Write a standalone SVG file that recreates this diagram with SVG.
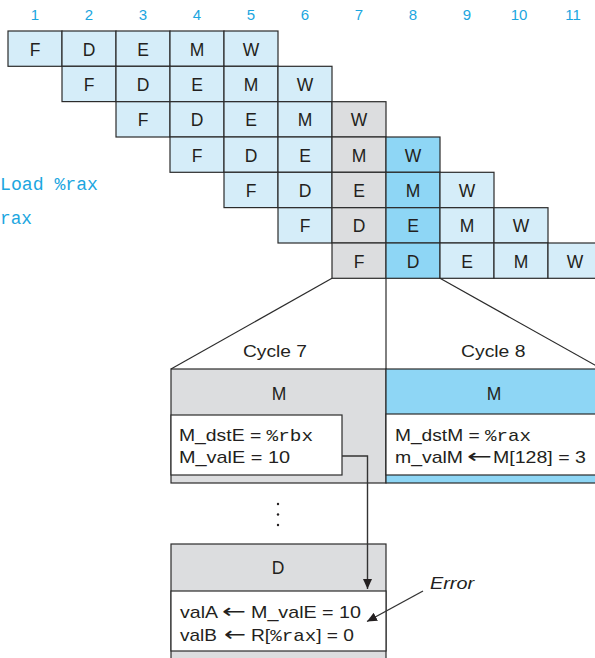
<svg xmlns="http://www.w3.org/2000/svg" width="595" height="658" viewBox="0 0 595 658">
<style>
.cell{stroke:#2b2b2b;stroke-width:1.2}
.lb{fill:#d5edf9}
.gr{fill:#dcdddf}
.bl{fill:#8ed6f5}
.wh{fill:#ffffff}
.t{font-family:"Liberation Sans",Arial,sans-serif;font-size:17px;fill:#231f20}
.ct{font-family:"Liberation Sans",Arial,sans-serif;font-size:17.5px;fill:#231f20;text-anchor:middle}
.c{text-anchor:middle}
.arr{font-family:"DejaVu Sans",sans-serif;font-size:20px;fill:#231f20}
.num{font-family:"Liberation Sans",Arial,sans-serif;font-size:15px;fill:#1ba6e0;text-anchor:middle}
.code{font-family:"Liberation Mono","Courier New",monospace;font-size:17.5px;fill:#1ba6e0}
.mono{font-family:"Liberation Mono","Courier New",monospace}
.ln{stroke:#2b2b2b;stroke-width:1.2;fill:none}
.ar{stroke:#333333;stroke-width:1.4;fill:none}
</style>
<defs>
<marker id="ah" markerUnits="userSpaceOnUse" markerWidth="11" markerHeight="9" refX="10" refY="4.5" orient="auto">
<path d="M0,0 L10,4.5 L0,9 z" fill="#231f20"/>
</marker>
</defs>
<rect width="595" height="658" fill="#ffffff"/>

<g id="cycle-numbers">
<text class="num" x="35" y="20">1</text>
<text class="num" x="89" y="20">2</text>
<text class="num" x="143" y="20">3</text>
<text class="num" x="197" y="20">4</text>
<text class="num" x="251" y="20">5</text>
<text class="num" x="305" y="20">6</text>
<text class="num" x="359" y="20">7</text>
<text class="num" x="413" y="20">8</text>
<text class="num" x="467" y="20">9</text>
<text class="num" x="519" y="20">10</text>
<text class="num" x="573" y="20">11</text>
</g>

<g id="code-labels">
<text class="code" x="0" y="190" textLength="98" lengthAdjust="spacingAndGlyphs">Load %rax</text>
<text class="code" x="0" y="224" textLength="32" lengthAdjust="spacingAndGlyphs">rax</text>
</g>

<g id="instr1">
<rect class="cell lb" x="8" y="31" width="54" height="35.3"/><text class="ct" x="35" y="55.5">F</text>
<rect class="cell lb" x="62" y="31" width="54" height="35.3"/><text class="ct" x="89" y="55.5">D</text>
<rect class="cell lb" x="116" y="31" width="54" height="35.3"/><text class="ct" x="143" y="55.5">E</text>
<rect class="cell lb" x="170" y="31" width="54" height="35.3"/><text class="ct" x="197" y="55.5">M</text>
<rect class="cell lb" x="224" y="31" width="54" height="35.3"/><text class="ct" x="251" y="55.5">W</text>
</g>
<g id="instr2">
<rect class="cell lb" x="62" y="66.3" width="54" height="35.3"/><text class="ct" x="89" y="90.8">F</text>
<rect class="cell lb" x="116" y="66.3" width="54" height="35.3"/><text class="ct" x="143" y="90.8">D</text>
<rect class="cell lb" x="170" y="66.3" width="54" height="35.3"/><text class="ct" x="197" y="90.8">E</text>
<rect class="cell lb" x="224" y="66.3" width="54" height="35.3"/><text class="ct" x="251" y="90.8">M</text>
<rect class="cell lb" x="278" y="66.3" width="54" height="35.3"/><text class="ct" x="305" y="90.8">W</text>
</g>
<g id="instr3">
<rect class="cell lb" x="116" y="101.7" width="54" height="35.3"/><text class="ct" x="143" y="126.2">F</text>
<rect class="cell lb" x="170" y="101.7" width="54" height="35.3"/><text class="ct" x="197" y="126.2">D</text>
<rect class="cell lb" x="224" y="101.7" width="54" height="35.3"/><text class="ct" x="251" y="126.2">E</text>
<rect class="cell lb" x="278" y="101.7" width="54" height="35.3"/><text class="ct" x="305" y="126.2">M</text>
<rect class="cell gr" x="332" y="101.7" width="54" height="35.3"/><text class="ct" x="359" y="126.2">W</text>
</g>
<g id="instr4">
<rect class="cell lb" x="170" y="137" width="54" height="35.3"/><text class="ct" x="197" y="161.5">F</text>
<rect class="cell lb" x="224" y="137" width="54" height="35.3"/><text class="ct" x="251" y="161.5">D</text>
<rect class="cell lb" x="278" y="137" width="54" height="35.3"/><text class="ct" x="305" y="161.5">E</text>
<rect class="cell gr" x="332" y="137" width="54" height="35.3"/><text class="ct" x="359" y="161.5">M</text>
<rect class="cell bl" x="386" y="137" width="54" height="35.3"/><text class="ct" x="413" y="161.5">W</text>
</g>
<g id="instr5">
<rect class="cell lb" x="224" y="172.3" width="54" height="35.3"/><text class="ct" x="251" y="196.8">F</text>
<rect class="cell lb" x="278" y="172.3" width="54" height="35.3"/><text class="ct" x="305" y="196.8">D</text>
<rect class="cell gr" x="332" y="172.3" width="54" height="35.3"/><text class="ct" x="359" y="196.8">E</text>
<rect class="cell bl" x="386" y="172.3" width="54" height="35.3"/><text class="ct" x="413" y="196.8">M</text>
<rect class="cell lb" x="440" y="172.3" width="54" height="35.3"/><text class="ct" x="467" y="196.8">W</text>
</g>
<g id="instr6">
<rect class="cell lb" x="278" y="207.7" width="54" height="35.3"/><text class="ct" x="305" y="232.2">F</text>
<rect class="cell gr" x="332" y="207.7" width="54" height="35.3"/><text class="ct" x="359" y="232.2">D</text>
<rect class="cell bl" x="386" y="207.7" width="54" height="35.3"/><text class="ct" x="413" y="232.2">E</text>
<rect class="cell lb" x="440" y="207.7" width="54" height="35.3"/><text class="ct" x="467" y="232.2">M</text>
<rect class="cell lb" x="494" y="207.7" width="54" height="35.3"/><text class="ct" x="521" y="232.2">W</text>
</g>
<g id="instr7">
<rect class="cell gr" x="332" y="243" width="54" height="35.3"/><text class="ct" x="359" y="267.5">F</text>
<rect class="cell bl" x="386" y="243" width="54" height="35.3"/><text class="ct" x="413" y="267.5">D</text>
<rect class="cell lb" x="440" y="243" width="54" height="35.3"/><text class="ct" x="467" y="267.5">E</text>
<rect class="cell lb" x="494" y="243" width="54" height="35.3"/><text class="ct" x="521" y="267.5">M</text>
<rect class="cell lb" x="548" y="243" width="54" height="35.3"/><text class="ct" x="575" y="267.5">W</text>
</g>

<g id="cycle7">
<text class="t" x="243" y="357" textLength="64" lengthAdjust="spacingAndGlyphs">Cycle 7</text>
<rect class="cell gr" x="171" y="369" width="215" height="114"/>
<text class="ct" x="279" y="400">M</text>
<rect class="cell wh" x="171" y="415" width="171" height="60"/>
<text class="t" x="179" y="441" textLength="134" lengthAdjust="spacingAndGlyphs">M_dstE = <tspan class="mono">%rbx</tspan></text>
<text class="t" x="179" y="463" textLength="111" lengthAdjust="spacingAndGlyphs">M_valE = 10</text>
</g>

<g id="cycle8">
<text class="t" x="461" y="357" textLength="64.5" lengthAdjust="spacingAndGlyphs">Cycle 8</text>
<rect class="cell bl" x="386" y="369" width="216" height="114"/>
<text class="ct" x="494" y="400">M</text>
<rect class="cell wh" x="386" y="414" width="216" height="61"/>
<text class="t" x="395" y="441" textLength="136" lengthAdjust="spacingAndGlyphs">M_dstM = <tspan class="mono">%rax</tspan></text>
<text class="t" x="395" y="463" textLength="68" lengthAdjust="spacingAndGlyphs">m_valM</text>
<text class="arr" x="467" y="463" textLength="25" lengthAdjust="spacingAndGlyphs">←</text>
<text class="t" x="493" y="463" textLength="93" lengthAdjust="spacingAndGlyphs">M[128] = 3</text>
</g>

<g id="ellipsis">
<circle cx="278" cy="504" r="1.2" fill="#231f20"/>
<circle cx="278" cy="514.5" r="1.2" fill="#231f20"/>
<circle cx="278" cy="525" r="1.2" fill="#231f20"/>
</g>

<g id="decode">
<rect class="cell gr" x="171" y="544" width="215" height="120"/>
<text class="ct" x="278" y="574">D</text>
<rect class="cell wh" x="171" y="591" width="215" height="60"/>
<text class="t" x="180" y="618" textLength="38" lengthAdjust="spacingAndGlyphs">valA</text>
<text class="arr" x="222" y="618" textLength="24" lengthAdjust="spacingAndGlyphs">←</text>
<text class="t" x="251" y="618" textLength="110" lengthAdjust="spacingAndGlyphs">M_valE = 10</text>
<text class="t" x="180" y="641" textLength="37" lengthAdjust="spacingAndGlyphs">valB</text>
<text class="arr" x="224" y="641" textLength="22" lengthAdjust="spacingAndGlyphs">←</text>
<text class="t" x="251" y="641" textLength="103" lengthAdjust="spacingAndGlyphs">R[<tspan class="mono">%rax</tspan>] = 0</text>
</g>

<g id="error-label">
<text class="t" x="430" y="589" font-style="italic" font-size="18" textLength="44" lengthAdjust="spacingAndGlyphs">Error</text>
</g>

<g id="connectors">
<line class="ln" x1="332" y1="278.3" x2="171" y2="369"/>
<line class="ln" x1="386" y1="278.3" x2="386" y2="369"/>
<line class="ln" x1="440" y1="278.3" x2="602" y2="369"/>
<path class="ar" d="M342,456 H367.5 V589" marker-end="url(#ah)"/>
<line class="ar" x1="423" y1="591" x2="367" y2="621.5" marker-end="url(#ah)"/>
</g>
</svg>
